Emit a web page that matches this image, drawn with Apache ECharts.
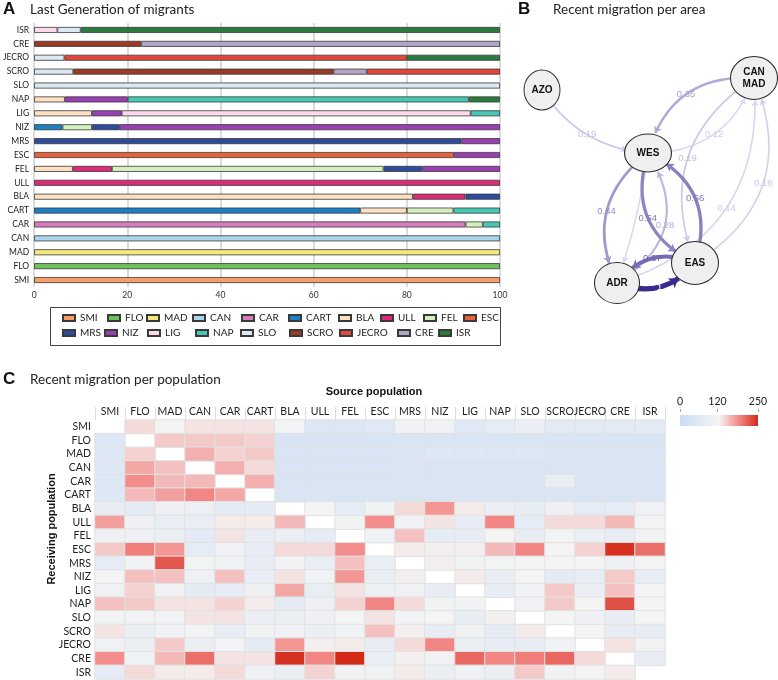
<!DOCTYPE html>
<html><head><meta charset="utf-8">
<script src="https://cdn.jsdelivr.net/npm/echarts@6/dist/echarts.min.js"></script>
<style>html,body{margin:0;padding:0;background:#fff}#c{width:778px;height:680px}</style>
</head><body><div id="c"></div>
<script>
// ================= DATA =================
// Panel A: receiving populations (bottom -> top)
const receivers = ['SMI','FLO','MAD','CAN','CAR','CART','BLA','ULL','FEL','ESC','MRS','NIZ','LIG','NAP','SLO','SCRO','JECRO','CRE','ISR'];
// legend order of source populations
const sourcePops = ['SMI','FLO','MAD','CAN','CAR','CART','BLA','ULL','FEL','ESC','MRS','NIZ','LIG','NAP','SLO','SCRO','JECRO','CRE','ISR'];
// stacking order of segments inside bars
const stackOrder = ['SMI','FLO','MAD','CAN','CAR','CART','BLA','ULL','FEL','ESC','MRS','NIZ','LIG','NAP','SLO','SCRO','CRE','JECRO','ISR'];
// share (%) of last generation of migrants from each source, per receiving population (order = receivers)
const lg_SMI   = [100,0,0,0,0,0,0,0,0,0,0,0,0,0,0,0,0,0,0];
const lg_FLO   = [0,100,0,0,0,0,0,0,0,0,0,0,0,0,0,0,0,0,0];
const lg_MAD   = [0,0,100,0,0,0,0,0,0,0,0,0,0,0,0,0,0,0,0];
const lg_CAN   = [0,0,0,100,0,0,0,0,0,0,0,0,0,0,0,0,0,0,0];
const lg_CAR   = [0,0,0,0,92.6,0,0,0,0,0,0,0,0,0,0,0,0,0,0];
const lg_CART  = [0,0,0,0,0,70,0,0,0,0,0,6.1,0,0,0,0,0,0,0];
const lg_BLA   = [0,0,0,0,0,10,81.3,0,8.3,0,0,0,12.4,6.6,0,0,0,0,0];
const lg_ULL   = [0,0,0,0,0,0,11.3,100,8.4,0,0,0,0,0,0,0,0,0,0];
const lg_FEL   = [0,0,0,0,3.7,10,0,0,58.3,0,0,6.3,0,0,0,0,0,0,0];
const lg_ESC   = [0,0,0,0,0,0,0,0,0,90.1,0,0,0,0,0,0,0,0,0];
const lg_MRS   = [0,0,0,0,0,0,7.4,0,8.3,0,91.7,6.0,0,0,0,0,0,0,0];
const lg_NIZ   = [0,0,0,0,0,0,0,0,16.7,9.9,8.3,81.6,6.4,13.5,0,0,0,0,0];
const lg_LIG   = [0,0,0,0,0,0,0,0,0,0,0,0,74.9,0,0,0,0,0,5];
const lg_NAP   = [0,0,0,0,3.7,10,0,0,0,0,0,0,6.3,73.2,0,0,0,0,0];
const lg_SLO   = [0,0,0,0,0,0,0,0,0,0,0,0,0,0,100,8.4,6.5,0,5];
const lg_SCRO  = [0,0,0,0,0,0,0,0,0,0,0,0,0,0,0,55.9,0,23,0];
const lg_JECRO = [0,0,0,0,0,0,0,0,0,0,0,0,0,0,0,28.6,73.5,0,0];
const lg_CRE   = [0,0,0,0,0,0,0,0,0,0,0,0,0,0,0,7.1,0,77,0];
const lg_ISR   = [0,0,0,0,0,0,0,0,0,0,0,0,0,6.7,0,0,20,0,90];

// Panel B: recent migration per area
const areaNodes  = ['AZO','CANMAD','WES','EAS','ADR'];
const areaLabels = ['AZO','CAN\nMAD','WES','EAS','ADR'];
const edgeFrom   = ['AZO','CANMAD','WES','CANMAD','ADR','EAS','WES','WES','ADR','WES','EAS','EAS','ADR'];
const edgeTo     = ['WES','WES','CANMAD','EAS','CANMAD','CANMAD','ADR','ADR','WES','EAS','WES','ADR','EAS'];
const edgeWeight = [0.19,0.35,0.12,0.19,0.14,0.16,0.44,0.13,0.28,0.54,0.56,0.67,1];
const edgeLabeled= [true,true,true,true,true,true,true,false,true,true,true,true,true];

// Panel C: recent migration per population (rows = receiving, columns = source)
const heatPops = ['SMI','FLO','MAD','CAN','CAR','CART','BLA','ULL','FEL','ESC','MRS','NIZ','LIG','NAP','SLO','SCRO','JECRO','CRE','ISR'];
const mig_SMI   = [null,140,125,135,135,135,120,50,50,60,115,115,60,80,95,70,70,70,75];
const mig_FLO   = [55,null,150,150,150,145,42,42,42,42,45,45,45,45,45,42,42,42,42];
const mig_MAD   = [55,145,null,165,145,150,42,42,42,42,45,55,55,50,55,45,45,45,45];
const mig_CAN   = [55,170,155,null,165,140,42,42,42,42,45,45,45,45,45,45,45,45,45];
const mig_CAR   = [55,185,160,160,null,165,42,42,42,42,45,45,45,45,45,90,45,45,45];
const mig_CART  = [55,160,175,190,170,null,42,42,42,42,45,45,45,45,45,45,45,45,45];
const mig_BLA   = [85,75,105,100,75,75,null,125,80,115,140,180,130,95,85,105,80,80,110];
const mig_ULL   = [175,105,90,90,130,130,160,null,115,185,115,135,85,190,80,140,140,160,125];
const mig_FEL   = [105,105,95,70,135,85,95,80,null,110,155,80,85,125,85,120,100,85,115];
const mig_ESC   = [150,195,180,80,110,85,140,140,185,null,130,128,128,160,190,125,145,245,205];
const mig_MRS   = [80,115,220,118,115,85,115,90,155,90,null,128,115,118,125,125,125,105,125];
const mig_NIZ   = [125,155,155,110,155,85,135,115,180,90,128,null,130,90,125,75,85,150,90];
const mig_LIG   = [110,145,115,75,80,105,170,90,135,105,110,85,null,85,115,150,95,155,125];
const mig_NAP   = [155,150,135,135,145,130,75,105,145,190,140,115,115,null,110,150,125,225,125];
const mig_SLO   = [118,115,118,135,135,95,95,110,125,135,118,125,90,128,null,125,110,90,125];
const mig_SCRO  = [135,95,110,118,85,115,110,95,115,155,128,85,115,80,130,null,125,85,85];
const mig_JECRO = [110,95,150,95,118,75,180,128,130,85,140,190,90,85,85,115,null,135,115];
const mig_CRE   = [185,115,160,205,135,135,245,190,250,90,128,115,210,190,195,210,140,null,85];
const mig_ISR   = [80,140,130,130,140,110,95,145,115,115,130,95,110,95,150,115,125,130,null];
const heatScaleTicks = [0,120,250];

// ================= STYLE / LAYOUT =================
const popColors = {SMI:'#f59e6c',FLO:'#6cc25b',MAD:'#f4ea7c',CAN:'#a9d6ea',CAR:'#d77cbc',CART:'#1c80c2',
  BLA:'#fde0c2',ULL:'#dd2a79',FEL:'#d6f0bd',ESC:'#ea6138',MRS:'#2e4c9e',NIZ:'#9a3fb4',LIG:'#fcd8ea',
  NAP:'#45c8b4',SLO:'#dbe9f4',SCRO:'#9b3b25',JECRO:'#e3463a',CRE:'#b4a5c6',ISR:'#2a7b3e'};
// legend item placement (icon left x) in two rows
const legendRow1X = [62,107,146,192,241,288,338,380,423,463];
const legendRow2X = [62,104,147,195,240,289,339,397,438];
const nodeLayout = {AZO:[542,90,36,40], CANMAD:[754,78,47,43], WES:[648,153,47,38], EAS:[695,263,47,43], ADR:[617,283,45,41]};
const edgeCurve = [-0.25,-0.4,-0.35,-0.4,-0.4,-0.42,-0.4,0.05,-0.5,-0.43,-0.43,-0.38,-0.36];
const heatColors = ['#c9dbf3','#e1e9f5','#f4f4f4','#f38a88','#d42a18'];
const SANS = 'Lato';
const HELV = 'Liberation Sans';

// ================= BUILD =================
const lastGen = {SMI:lg_SMI,FLO:lg_FLO,MAD:lg_MAD,CAN:lg_CAN,CAR:lg_CAR,CART:lg_CART,BLA:lg_BLA,ULL:lg_ULL,
  FEL:lg_FEL,ESC:lg_ESC,MRS:lg_MRS,NIZ:lg_NIZ,LIG:lg_LIG,NAP:lg_NAP,SLO:lg_SLO,SCRO:lg_SCRO,JECRO:lg_JECRO,CRE:lg_CRE,ISR:lg_ISR};
const migRows = {SMI:mig_SMI,FLO:mig_FLO,MAD:mig_MAD,CAN:mig_CAN,CAR:mig_CAR,CART:mig_CART,BLA:mig_BLA,ULL:mig_ULL,
  FEL:mig_FEL,ESC:mig_ESC,MRS:mig_MRS,NIZ:mig_NIZ,LIG:mig_LIG,NAP:mig_NAP,SLO:mig_SLO,SCRO:mig_SCRO,JECRO:mig_JECRO,CRE:mig_CRE,ISR:mig_ISR};

const series = [];
stackOrder.forEach(p => {
  series.push({
    type:'bar', name:p, stack:'lg', xAxisIndex:0, yAxisIndex:0, barWidth:6,
    data: lastGen[p].map(v => v ? v : '-'),
    itemStyle:{color:popColors[p], borderColor:'#3a3a3a', borderWidth:0.8},
    emphasis:{disabled:true}, animation:false
  });
});

const heatData = [];
heatPops.forEach((r, yi) => {
  migRows[r].forEach((v, xi) => { heatData.push([xi, yi, v == null ? '-' : v]); });
});
const heatIndex = series.length;
series.push({
  type:'heatmap', xAxisIndex:1, yAxisIndex:1, data:heatData,
  itemStyle:{borderColor:'#e2e2e2', borderWidth:1},
  emphasis:{disabled:true}, animation:false
});

function mix(a,b,t){return a.map((x,i)=>Math.round(x+(b[i]-x)*t));}
function edgeColor(w){const t=Math.max(0,Math.min(1,(w-0.1)/0.9));const c=mix([222,218,245],[58,42,142],t);return 'rgb('+c.join(',')+')';}

const nodes = areaNodes.map((n,i)=>({
  name:n, x:nodeLayout[n][0], y:nodeLayout[n][1],
  symbolSize:[nodeLayout[n][2], nodeLayout[n][3]],
  label:{formatter:areaLabels[i]}
}));
const edgeIdx = edgeWeight.map((w,i)=>i).sort((a,b)=>edgeWeight[a]-edgeWeight[b]);
const links = edgeIdx.map(i=>{
  const w = edgeWeight[i], col = edgeColor(w);
  return {
    source:edgeFrom[i], target:edgeTo[i], value:w,
    symbolSize:[0, 5 + 4*w],
    lineStyle:{color:col, width:0.9 + 4.3*w, curveness:edgeCurve[i], opacity:1}
  };
});
series.push({
  type:'graph', layout:'none', left:542, top:78, width:212, height:205, roam:false,
  symbol:'path://M0,50 A50,50 0 1,1 100,50 A50,50 0 1,1 0,50 Z',
  data:nodes, links:links,
  edgeSymbol:['none','arrow'],
  itemStyle:{color:'#efefef', borderColor:'#2b2b2b', borderWidth:1},
  label:{show:true, position:'inside', fontFamily:HELV, fontWeight:'bold', fontSize:10, color:'#111', lineHeight:12},
  edgeLabel:{show:false},
  emphasis:{disabled:true}, animation:false
});

// horizontal edge labels placed at the middle of each (quadratic) edge curve
const edgeLabelGraphics = [];
edgeIdx.forEach(i=>{
  if (!edgeLabeled[i]) return;
  const a = nodeLayout[edgeFrom[i]], b = nodeLayout[edgeTo[i]], c = edgeCurve[i], w = edgeWeight[i];
  const x = (a[0]+b[0])/2 + 0.5*c*(b[1]-a[1]);
  const y = (a[1]+b[1])/2 - 0.5*c*(b[0]-a[0]);
  edgeLabelGraphics.push({type:'text', x:x, y:y, z:100,
    style:{text:String(w), font:'9.5px '+HELV, fill: w >= 0.9 ? '#ffffff' : edgeColor(Math.min(1, w + 0.05)), align:'center', verticalAlign:'middle'}});
});

const legendTextStyle = {fontFamily:SANS, fontSize:10, color:'#222'};
const legends = sourcePops.map((p,i)=>({
  data:[p], left: i < 10 ? legendRow1X[i] : legendRow2X[i-10], top: i < 10 ? 313 : 328,
  padding:0, itemWidth:12, itemHeight:6, itemGap:5, icon:'rect', textStyle:legendTextStyle, selectedMode:false
}));

const option = {
  animation:false,
  textStyle:{fontFamily:SANS},
  grid:[
    {left:31, top:23, width:469, height:264},
    {left:95, top:420, width:570, height:259}
  ],
  xAxis:[
    {type:'value', gridIndex:0, min:0, max:100, interval:20,
     axisLine:{show:false}, axisTick:{show:false},
     axisLabel:{fontSize:8.5, color:'#333', margin:4, fontFamily:SANS},
     splitLine:{lineStyle:{color:'#cfcfcf', width:1.5}}},
    {type:'category', gridIndex:1, position:'top', data:heatPops,
     axisLine:{show:false},
     axisTick:{show:true, length:13, lineStyle:{color:'#dcdcdc'}},
     axisLabel:{fontSize:10.5, color:'#222', margin:3, interval:0, fontFamily:SANS},
     splitLine:{show:false}}
  ],
  yAxis:[
    {type:'category', gridIndex:0, data:receivers,
     axisLine:{show:false}, axisTick:{show:false},
     axisLabel:{fontSize:8.5, color:'#222', margin:5, fontFamily:SANS}},
    {type:'category', gridIndex:1, data:heatPops, inverse:true,
     axisLine:{show:false}, axisTick:{show:false},
     axisLabel:{fontSize:10.5, color:'#222', margin:4, interval:0, fontFamily:SANS}}
  ],
  legend:legends,
  visualMap:[{type:'continuous', show:false, seriesIndex:heatIndex, dimension:2, min:0, max:250,
    inRange:{color:heatColors}}],
  graphic:[
    {type:'text', x:3, y:1, style:{text:'A', font:'bold 17px '+HELV, fill:'#111'}},
    {type:'text', x:30, y:3, style:{text:'Last Generation of migrants', font:'13.5px '+SANS, fill:'#222'}},
    {type:'text', x:518, y:1, style:{text:'B', font:'bold 17px '+HELV, fill:'#111'}},
    {type:'text', x:553, y:3, style:{text:'Recent migration per area', font:'13.5px '+SANS, fill:'#222'}},
    {type:'text', x:3, y:371, style:{text:'C', font:'bold 17px '+HELV, fill:'#111'}},
    {type:'text', x:30, y:373, style:{text:'Recent migration per population', font:'13.5px '+SANS, fill:'#222'}},
    {type:'rect', shape:{x:50.5, y:307.5, width:450, height:38}, style:{fill:'none', stroke:'#444', lineWidth:1}},
    {type:'text', x:374, y:392, style:{text:'Source population', font:'bold 11px '+HELV, fill:'#111', align:'center', verticalAlign:'middle'}},
    {type:'text', x:52, y:529, rotation:Math.PI/2, style:{text:'Receiving population', font:'bold 11px '+HELV, fill:'#111', align:'center', verticalAlign:'middle'}},
    {type:'rect', shape:{x:680, y:415, width:78, height:11},
     style:{fill:new echarts.graphic.LinearGradient(0,0,1,0, heatColors.map((c,i)=>({offset:i/(heatColors.length-1), color:c})))}},
  ].concat(heatScaleTicks.map(t=>{
    const x = 680 + 78*t/250;
    return {type:'text', x:x, y:402, style:{text:String(t), font:'10.5px '+SANS, fill:'#222', align:'center', verticalAlign:'middle'}};
  })).concat(heatScaleTicks.map(t=>{
    const x = Math.round(680 + 78*t/250) + 0.5;
    return {type:'line', shape:{x1:x, y1:409, x2:x, y2:412}, style:{stroke:'#aaa', lineWidth:1}};
  })).concat(edgeLabelGraphics),
  series:series
};

const chart = echarts.init(document.getElementById('c'), null, {renderer:'canvas'});
chart.setOption(option);
</script>
</body></html>
